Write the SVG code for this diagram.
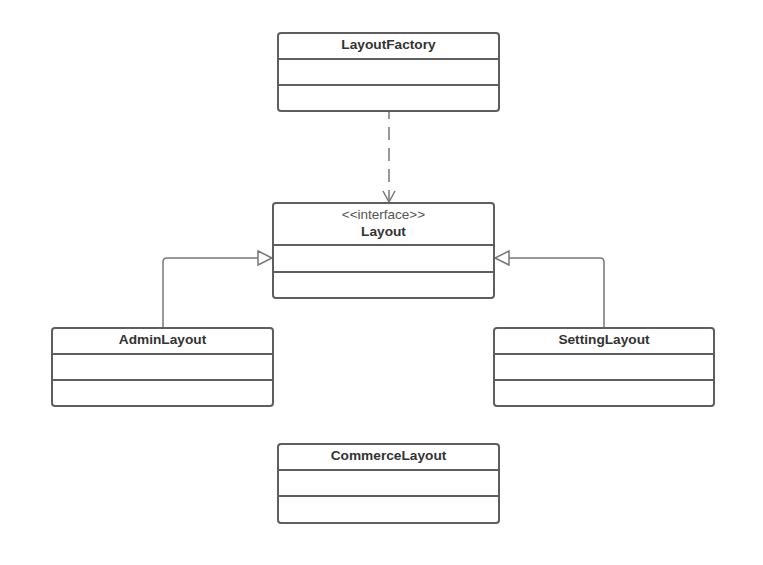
<svg xmlns="http://www.w3.org/2000/svg" width="763" height="565" viewBox="0 0 763 565">
<style>
.box{fill:#fff;stroke:#5e5e5e;stroke-width:2}
.div{stroke:#5e5e5e;stroke-width:2;fill:none}
.t{font-family:"Liberation Sans",Arial,sans-serif;font-size:13.7px;font-weight:bold;fill:#333;text-anchor:middle}
.s{font-family:"Liberation Sans",Arial,sans-serif;font-size:13.5px;fill:#555;text-anchor:middle}
.c{stroke:#777;stroke-width:1.5;fill:none}
</style>
<defs>
<marker id="open" markerWidth="16" markerHeight="16" refX="8" refY="12" orient="0" markerUnits="userSpaceOnUse">
<path d="M2,1 L8,12 L14,1" fill="none" stroke="#777" stroke-width="1.5"/>
</marker>
<marker id="tri" markerWidth="18" markerHeight="18" refX="15" refY="8" orient="auto" markerUnits="userSpaceOnUse">
<path d="M1,1 L15,8 L1,15 Z" fill="#fff" stroke="#777" stroke-width="1.5"/>
</marker>
</defs>
<g id="connectors">
<path class="c" d="M389,112 L389,202" stroke-dasharray="13,8" stroke-dashoffset="6" marker-end="url(#open)"/>
<path class="c" d="M163,328 L163,262 Q163,258 167,258 L272,258" marker-end="url(#tri)"/>
<path class="c" d="M604,328 L604,262 Q604,258 600,258 L495,258" marker-end="url(#tri)"/>
</g>
<g id="LayoutFactory">
<rect class="box" x="278" y="33" width="221" height="78" rx="3"/>
<line class="div" x1="278" y1="59" x2="499" y2="59"/>
<line class="div" x1="278" y1="85" x2="499" y2="85"/>
<text class="t" x="388.5" y="49">LayoutFactory</text>
</g>
<g id="Layout">
<rect class="box" x="273" y="203" width="221" height="95" rx="3"/>
<line class="div" x1="273" y1="245" x2="494" y2="245"/>
<line class="div" x1="273" y1="272" x2="494" y2="272"/>
<text class="s" x="383.5" y="219">&lt;&lt;interface&gt;&gt;</text>
<text class="t" x="383.5" y="236">Layout</text>
</g>
<g id="AdminLayout">
<rect class="box" x="52" y="328" width="221" height="78" rx="3"/>
<line class="div" x1="52" y1="354" x2="273" y2="354"/>
<line class="div" x1="52" y1="380" x2="273" y2="380"/>
<text class="t" x="162.5" y="344">AdminLayout</text>
</g>
<g id="SettingLayout">
<rect class="box" x="494" y="328" width="220" height="78" rx="3"/>
<line class="div" x1="494" y1="354" x2="714" y2="354"/>
<line class="div" x1="494" y1="380" x2="714" y2="380"/>
<text class="t" x="604" y="344">SettingLayout</text>
</g>
<g id="CommerceLayout">
<rect class="box" x="278" y="444" width="221" height="79" rx="3"/>
<line class="div" x1="278" y1="470" x2="499" y2="470"/>
<line class="div" x1="278" y1="496" x2="499" y2="496"/>
<text class="t" x="388.5" y="460">CommerceLayout</text>
</g>
</svg>
